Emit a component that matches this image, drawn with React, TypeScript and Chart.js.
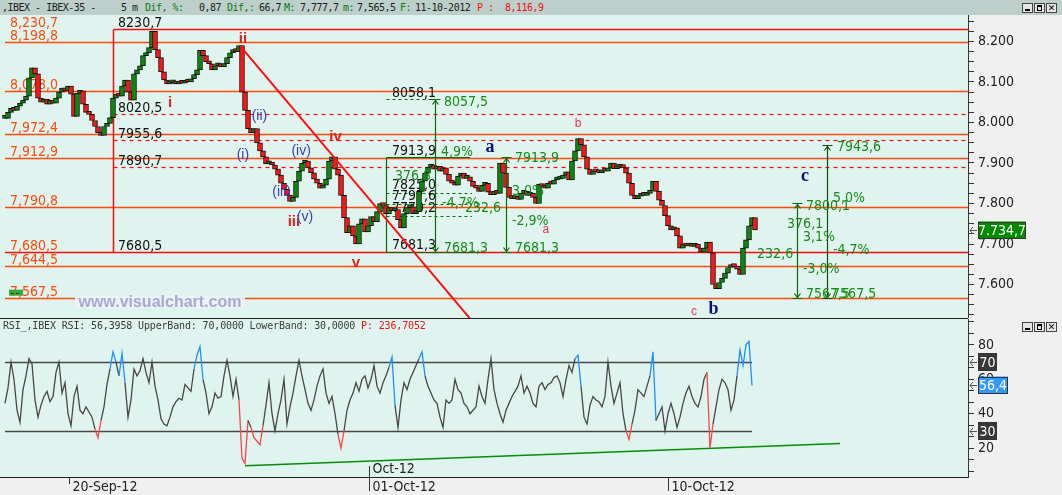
import React, { useEffect, useRef } from "react";
import { Chart, registerables } from "chart.js";

Chart.register(...registerables);

// ---------------- DATA ----------------
// Sampled 5-minute IBEX-35 closes (index 0 = 18-Sep-12 afternoon, last = 11-Oct-12)
const closes: number[] = [
  8010, 8025, 8035, 8030, 8040, 8048, 8055, 8065, 8110, 8135,
  8120, 8060, 8050, 8058, 8045, 8055, 8048, 8060, 8075, 8085,
  8078, 8090, 8070, 8015, 8072, 8078, 8045, 8025, 8020, 8005,
  7990, 7975, 7968, 7990, 7998, 8012, 8060, 8070, 8065, 8090,
  8105, 8075, 8055, 8120, 8130, 8140, 8165, 8172, 8185, 8225,
  8180, 8160, 8125, 8105, 8095, 8098, 8102, 8095, 8100, 8097,
  8104, 8100, 8108, 8118, 8130, 8178, 8165, 8150, 8145, 8130,
  8140, 8142, 8138, 8145, 8160, 8172, 8180, 8175, 8190, 8075,
  8030, 7985, 7975, 7985, 7950, 7930, 7915, 7898, 7902, 7895,
  7885, 7870, 7850, 7835, 7820, 7805, 7815, 7855, 7880, 7900,
  7905, 7888, 7876, 7860, 7850, 7838, 7845, 7860, 7905, 7915,
  7885, 7870, 7820, 7765, 7728, 7745, 7720, 7700, 7750, 7762,
  7730, 7745, 7768, 7755, 7780, 7800, 7795, 7775, 7790, 7782,
  7785, 7760, 7740, 7775, 7790, 7792, 7775, 7780, 7830, 7855,
  7875, 7890, 7895, 7885, 7892, 7880, 7888, 7872, 7855, 7850,
  7845, 7868, 7875, 7862, 7866, 7855, 7842, 7838, 7830, 7845,
  7850, 7828, 7822, 7830, 7825, 7900, 7875, 7840, 7815, 7812,
  7818, 7810, 7825, 7830, 7820, 7825, 7815, 7800, 7848, 7842,
  7838, 7850, 7848, 7858, 7860, 7862, 7870, 7878, 7858, 7905,
  7930, 7960, 7945, 7915, 7885, 7872, 7880, 7878, 7876, 7882,
  7880, 7888, 7900, 7886, 7890, 7896, 7888, 7875, 7850, 7820,
  7812, 7818, 7822, 7820, 7825, 7832, 7855, 7830, 7808, 7795,
  7770, 7745, 7735, 7740, 7720, 7690, 7700, 7695, 7698, 7694,
  7700, 7690, 7680, 7690, 7705, 7678, 7600, 7590, 7605, 7615,
  7628, 7642, 7648, 7644, 7638, 7625, 7690, 7710, 7745, 7765,
  7735,
];

// RSI of the same bars
const rsiValues: number[] = [
  46, 55, 70, 60, 42, 35, 54, 62, 72, 69,
  48, 38, 45, 50, 53, 47, 50, 64, 70, 52,
  58, 40, 33, 50, 56, 42, 40, 44, 41, 38,
  31, 26, 36, 44, 57, 66, 76, 70, 62, 75,
  58, 38, 48, 66, 62, 65, 72, 64, 58, 70,
  56, 48, 37, 34, 33, 38, 44, 47, 49, 48,
  57, 55, 53, 66, 74, 79, 60, 52, 40, 44,
  52, 49, 50, 62, 71, 62, 50, 60, 48, 14,
  11, 36, 32, 26, 24, 22, 33, 45, 58, 40,
  30, 40, 48, 60, 34, 44, 52, 62, 71, 62,
  54, 46, 42, 48, 56, 62, 66, 52, 46, 50,
  40, 28, 20, 30, 42, 48, 52, 58, 53, 60,
  62, 55, 60, 68, 56, 52, 58, 62, 67, 73,
  45, 32, 48, 58, 54, 60, 64, 68, 72, 76,
  62, 56, 52, 48, 46, 38, 32, 48, 46, 48,
  60, 54, 52, 46, 44, 40, 42, 44, 56, 50,
  46, 60, 72, 54, 46, 40, 35, 42, 46, 50,
  53, 56, 62, 52, 56, 52, 46, 44, 56, 58,
  54, 57, 58, 61, 62, 58, 50, 60, 68, 64,
  72, 74, 56, 38, 34, 45, 50, 48, 47, 44,
  50, 70, 56, 46, 52, 58, 40, 30, 25, 34,
  42, 54, 52, 50, 56, 62, 76, 36, 40, 44,
  30, 40, 46, 40, 32, 38, 46, 52, 56, 50,
  46, 44, 50, 60, 64, 20, 34, 44, 54, 60,
  58, 54, 42, 48, 62, 77, 68, 80, 82, 56.4,
];

// x-axis date separators (bar index) and labels
const dateTickIndex = [21.3, 121.3, 221.1];
const dateTickLabels = ["20-Sep-12", "01-Oct-12", "10-Oct-12"];
const monthTickIndex = [121.3];
const monthTickLabels = ["Oct-12"];

// last values
const lastPrice = 7734.7;
const lastPriceLabel = "7.734,7";
const lastRsi = 56.4;
const lastRsiLabel = "56,4";
const rsiBands = [70, 30];
const rsiBandLabels = ["70", "30"];
// RSI support trendline [index, rsi]
const rsiTrendStart = [80, 9.7];
const rsiTrendEnd = [278.3, 22.7];

// horizontal levels drawn across the price panel
const levelValues = [8198.8, 8078.0, 7972.4, 7912.9, 7790.8, 7680.5, 7644.5, 7567.5];
const leftLabelValues = [8230.7, 8198.8, 8078.0, 7972.4, 7912.9, 7790.8, 7680.5, 7644.5, 7567.5];
const leftLabelTexts = ["8,230,7", "8,198,8", "8,078,0", "7,972,4", "7,912,9", "7,790,8", "7,680,5", "7,644,5", "7,567,5"];
const leftLabelIndex = 1.67;

// Fibonacci retracement of wave i
const fibStartIndex = 36;
const fibLabelIndex = 37.7;
const fibTop = 8230.7;
const fibBottom = 7680.5;
const fibDashed = [8020.5, 7955.6, 7890.7];
const fibLabels = ["8230,7", "8020,5", "7955,6", "7890,7", "7680,5"];

// green retracement box (wave a)
const boxLeftIndex = 127;
const boxTopRightIndex = 155;
const boxBottomRightIndex = 158.3;
const boxFibRightIndex = 155.7;
const boxTop = 7913.9;
const boxBottom = 7681.3;
const boxHighDashed = 8057.5;
const boxFibLevels = [7825.0, 7797.6, 7770.2];

// measuring arrows
const arrowIndex = [143.3, 167, 264, 274];
const arrowTop = [8057.5, 7913.9, 7800.1, 7943.6];
const arrowBottom = [7681.3, 7681.3, 7567.5, 7567.5];

// black labels of the box: [index, price, text]
const boxBlackLabels: [number, number, string][] = [
  [129, 8072.8, "8058,1"],
  [129, 7927.9, "7913,9"],
  [129, 7844.4, "7825,0"],
  [129, 7816.8, "7797,6"],
  [129, 7788.1, "7770,2"],
  [129, 7697.5, "7681,3"],
];
// green measurement labels: [index, price, text]
const greenLabels: [number, number, string][] = [
  [146.3, 8048.9, "8057,5"],
  [145.3, 7925.4, "4,9%"],
  [130, 7866.2, "376,8"],
  [145.7, 7800.5, "-4,7%"],
  [153.3, 7788.1, "232,6"],
  [146.3, 7689.4, "7681,3"],
  [170, 7911.6, "7913,9"],
  [169, 7829.1, "3,0%"],
  [169, 7755.1, "-2,9%"],
  [170, 7689.4, "7681,3"],
  [277.3, 7938.8, "7943,6"],
  [267, 7793.8, "7800,1"],
  [276, 7812.8, "5,0%"],
  [260.7, 7748.6, "376,1"],
  [266, 7716.5, "3,1%"],
  [276, 7685.2, "-4,7%"],
  [250.7, 7675.3, "232,6"],
  [266, 7637.5, "-3,0%"],
  [267, 7575.8, "7567,5"],
  [275.7, 7575.8, "7567,5"],
];

// Elliott wave counts: [index, price, text]
const waveMajor: [number, number, string][] = [
  [55, 8048.1, "i"], [79.3, 8206.2, "ii"], [96.3, 7755.6, "iii"], [110.2, 7965.4, "iv"], [117, 7654.3, "v"],
];
const waveMinor: [number, number, string][] = [
  [79.3, 7919.8, "(i)"], [84.8, 8016.0, "(ii)"], [92.2, 7828.4, "(iii)"], [98.7, 7928.4, "(iv)"], [100, 7765.4, "(v)"],
];
const waveABC: [number, number, string][] = [
  [161.7, 7939.5, "a"], [236.2, 7538.3, "b"], [266.7, 7867.9, "c"],
];
const waveSub: [number, number, string][] = [
  [180.3, 7734.6, "a"], [191, 7996.3, "b"], [229.7, 7533.3, "c"],
];
// downtrend line from wave ii: [index, price]
const trendStart = [78.3, 8190];
const trendEnd = [160, 7472];
// watermark position [index start, index end, price]
const watermark = { from: 23.3, to: 80, price: 7556.8, text: "www.visualchart.com" };

// axis ranges
const priceMin = 7517.3;
const priceMax = 8265.4;
const rsiMin = 3.2;
const rsiMax = 95.06;
const indexMin = -1.667;
const indexMax = 321;

// ---------------- STYLE ----------------
const MINT = "#e0f4ef";
const GRAY = "#f0f0f0";
const ORANGE = "#ff4a0a";
const RED = "#ff0a0a";
const DGREEN = "#0a6a0a";
const TGREEN = "#168c16";
const FONT_AXIS = "'Liberation Sans Narrow', 'DejaVu Sans Condensed', 'Liberation Sans', sans-serif";
const FONT_MONO = "'DejaVu Sans Mono', monospace";

function hline(ctx: any, x1: number, x2: number, y: number, color: string, w: number, dash: number[] = []) {
  ctx.save();
  ctx.strokeStyle = color;
  ctx.lineWidth = w;
  ctx.setLineDash(dash);
  ctx.beginPath();
  ctx.moveTo(x1, y);
  ctx.lineTo(x2, y);
  ctx.stroke();
  ctx.restore();
}
function vline(ctx: any, x: number, y1: number, y2: number, color: string, w: number) {
  ctx.save();
  ctx.strokeStyle = color;
  ctx.lineWidth = w;
  ctx.beginPath();
  ctx.moveTo(x, y1);
  ctx.lineTo(x, y2);
  ctx.stroke();
  ctx.restore();
}
function text(ctx: any, s: string, x: number, y: number, color: string, font: string, align = "left", base = "middle") {
  ctx.save();
  ctx.fillStyle = color;
  ctx.font = font;
  ctx.textAlign = align;
  ctx.textBaseline = base;
  ctx.fillText(s, x, y);
  ctx.restore();
}
function arrow(ctx: any, x: number, yt: number, yb: number, color: string) {
  ctx.save();
  ctx.strokeStyle = color;
  ctx.lineWidth = 1.2;
  ctx.beginPath();
  ctx.moveTo(x, yt);
  ctx.lineTo(x, yb);
  ctx.moveTo(x - 5, yt);
  ctx.lineTo(x + 5, yt);
  ctx.moveTo(x - 5, yb);
  ctx.lineTo(x + 5, yb);
  ctx.moveTo(x - 3, yt + 5);
  ctx.lineTo(x, yt + 1);
  ctx.lineTo(x + 3, yt + 5);
  ctx.moveTo(x - 3, yb - 5);
  ctx.lineTo(x, yb - 1);
  ctx.lineTo(x + 3, yb - 5);
  ctx.stroke();
  ctx.restore();
}
function leftArrow(ctx: any, x: number, y: number) {
  ctx.save();
  ctx.strokeStyle = "#555";
  ctx.lineWidth = 1;
  ctx.beginPath();
  ctx.moveTo(x + 7, y + 0.5);
  ctx.lineTo(x, y + 0.5);
  ctx.moveTo(x + 3, y - 3);
  ctx.lineTo(x, y + 0.5);
  ctx.lineTo(x + 3, y + 4);
  ctx.stroke();
  ctx.restore();
}
function valueBox(ctx: any, s: string, x: number, y: number, w: number, h: number, bg: string) {
  ctx.save();
  ctx.fillStyle = bg;
  ctx.fillRect(x, y - h / 2, w, h);
  ctx.strokeStyle = "#333";
  ctx.lineWidth = 1;
  ctx.strokeRect(x + 0.5, Math.round(y - h / 2) + 0.5, w - 1, h - 1);
  ctx.restore();
  text(ctx, s, x + w / 2, y + 1, "#ffffff", `14px ${FONT_AXIS}`, "center", "middle");
}

const fmtAxis = (v: number) => {
  const t = Math.round(v);
  return `${Math.floor(t / 1000)}.${String(t % 1000).padStart(3, "0")}`;
};

const noPad = (s: any) => {
  s.width = 94;
  s.paddingTop = 0;
  s.paddingBottom = 0;
};

const mainPlugin = {
  id: "mainDecor",
  beforeDraw(chart: any) {
    const { ctx, chartArea: a } = chart;
    ctx.save();
    ctx.fillStyle = MINT;
    ctx.fillRect(a.left, a.top, a.right - a.left, a.bottom - a.top);
    ctx.restore();
  },
  beforeDatasetsDraw(chart: any) {
    const { ctx, chartArea: a, scales } = chart;
    const X = (v: number) => scales.x.getPixelForValue(v);
    const Y = (v: number) => scales.y.getPixelForValue(v);
    const cy = (v: number) => Math.round(Y(v)) + 0.5;
    const cx = (v: number) => Math.round(X(v)) + 0.5;
    const lab = `14px ${FONT_AXIS}`;
    ctx.save();
    ctx.beginPath();
    ctx.rect(a.left, a.top, a.right - a.left, a.bottom - a.top);
    ctx.clip();

    levelValues.forEach((v) => hline(ctx, a.left + 5, a.right, cy(v), v === fibBottom ? RED : ORANGE, 1.5));
    // fibonacci of wave i
    const fx = cx(fibStartIndex);
    hline(ctx, fx, a.right, cy(fibTop), RED, 1.5);
    fibDashed.forEach((v) => hline(ctx, fx, a.right, cy(v), RED, 1.2, [4, 4]));
    vline(ctx, fx, cy(fibTop), cy(fibBottom), RED, 1.5);
    [fibTop, ...fibDashed, fibBottom].forEach((v, k) =>
      text(ctx, fibLabels[k], X(fibLabelIndex), Y(v) - 2, "#111", lab, "left", "alphabetic")
    );
    leftLabelValues.forEach((v, k) =>
      text(ctx, leftLabelTexts[k], X(leftLabelIndex), Y(v) - 2, ORANGE, lab, "left", "alphabetic")
    );
    // small green marker on the last label
    {
      const y = Y(leftLabelValues[leftLabelValues.length - 1]);
      ctx.fillStyle = "#3aa83a";
      ctx.fillRect(X(leftLabelIndex) - 1, y - 8, 14, 6);
      hline(ctx, X(leftLabelIndex) + 1, X(leftLabelIndex) + 11, Math.round(y - 5) + 0.5, "#1a4a1a", 1, [3, 2]);
    }
    // green retracement box
    const bl = cx(boxLeftIndex);
    vline(ctx, bl, cy(boxTop), cy(boxBottom), DGREEN, 1.2);
    hline(ctx, bl, X(boxTopRightIndex), cy(boxTop), DGREEN, 1.2);
    hline(ctx, bl, X(boxBottomRightIndex), cy(boxBottom), DGREEN, 1.2);
    hline(ctx, bl, X(arrowIndex[0]), cy(boxHighDashed), DGREEN, 1, [3, 3]);
    boxFibLevels.forEach((v) => hline(ctx, bl, X(boxFibRightIndex), cy(v), DGREEN, 1, [3, 3]));
    boxBlackLabels.forEach(([i, p, s]) => text(ctx, s, X(i), Y(p), "#111", lab));
    ctx.restore();
  },
  afterDatasetsDraw(chart: any) {
    const { ctx, chartArea: a, scales } = chart;
    const X = (v: number) => scales.x.getPixelForValue(v);
    const Y = (v: number) => scales.y.getPixelForValue(v);
    const lab = `14px ${FONT_AXIS}`;
    ctx.save();
    ctx.beginPath();
    ctx.rect(a.left, a.top, a.right - a.left, a.bottom - a.top);
    ctx.clip();
    // downtrend line
    ctx.save();
    ctx.strokeStyle = "#ff1010";
    ctx.lineWidth = 2;
    ctx.beginPath();
    ctx.moveTo(X(trendStart[0]), Y(trendStart[1]));
    ctx.lineTo(X(trendEnd[0]), Y(trendEnd[1]));
    ctx.stroke();
    ctx.restore();
    // arrows
    arrowIndex.forEach((ix, k) =>
      arrow(ctx, Math.round(X(ix)) + 0.5, Math.round(Y(arrowTop[k])) + 0.5, Math.round(Y(arrowBottom[k])) + 0.5, k === 3 ? "#0a4f0a" : DGREEN)
    );
    greenLabels.forEach(([i, p, s]) => text(ctx, s, X(i), Y(p), TGREEN, lab));
    // Elliott labels
    waveMajor.forEach(([i, p, s]) => text(ctx, s, X(i), Y(p), "#e4211b", `bold 15px 'Liberation Sans', sans-serif`, "center"));
    waveMinor.forEach(([i, p, s]) => text(ctx, s, X(i), Y(p), "#3c3cb8", `14px 'Liberation Sans', sans-serif`, "center"));
    waveABC.forEach(([i, p, s]) => text(ctx, s, X(i), Y(p), "#10107a", `bold 18px 'Liberation Serif', serif`, "center"));
    waveSub.forEach(([i, p, s]) => text(ctx, s, X(i), Y(p), "#f0325a", `12px 'Liberation Sans', sans-serif`, "center"));
    // watermark
    const wx1 = X(watermark.from);
    const wx2 = X(watermark.to);
    const wy = Y(watermark.price);
    ctx.fillStyle = "#eef1f7";
    ctx.fillRect(wx1, wy - 6, wx2 - wx1, 12);
    text(ctx, watermark.text, (wx1 + wx2) / 2, wy + 1, "#a6a9d2", `bold 16px 'Liberation Sans', sans-serif`, "center");
    ctx.restore();
  },
  afterDraw(chart: any) {
    const { ctx, chartArea: a, scales } = chart;
    const y = Math.round(scales.y.getPixelForValue(lastPrice));
    leftArrow(ctx, a.right + 2, y);
    valueBox(ctx, lastPriceLabel, a.right + 10, y, 48, 17, "#008a00");
  },
};

const rsiPlugin = {
  id: "rsiDecor",
  beforeDraw(chart: any) {
    const { ctx, chartArea: a } = chart;
    ctx.save();
    ctx.fillStyle = MINT;
    ctx.fillRect(a.left, a.top, a.right - a.left, a.bottom - a.top);
    ctx.restore();
  },
  beforeDatasetsDraw(chart: any) {
    const { ctx, chartArea: a, scales } = chart;
    const X = (v: number) => scales.x.getPixelForValue(v);
    const Y = (v: number) => scales.y.getPixelForValue(v);
    ctx.save();
    ctx.beginPath();
    ctx.rect(a.left, a.top, a.right - a.left, a.bottom - a.top);
    ctx.clip();
    rsiBands.forEach((b) => hline(ctx, X(0), X(rsiValues.length - 1), Math.round(Y(b)) + 0.5, "#474747", 1.3));
    ctx.strokeStyle = "#0a8a0a";
    ctx.lineWidth = 1.5;
    ctx.beginPath();
    ctx.moveTo(X(rsiTrendStart[0]), Y(rsiTrendStart[1]));
    ctx.lineTo(X(rsiTrendEnd[0]), Y(rsiTrendEnd[1]));
    ctx.stroke();
    // month separator inside the panel
    monthTickIndex.forEach((ix, k) => {
      const x = Math.round(X(ix)) + 0.5;
      vline(ctx, x, a.bottom - 11, a.bottom, "#333", 1);
      text(ctx, monthTickLabels[k], x + 3, a.bottom - 7.5, "#222", `14px ${FONT_AXIS}`);
    });
    ctx.restore();
  },
  afterDraw(chart: any) {
    const { ctx, chartArea: a, scales } = chart;
    const X = (v: number) => scales.x.getPixelForValue(v);
    const Y = (v: number) => scales.y.getPixelForValue(v);
    rsiBands.forEach((b, k) => {
      const y = Math.round(Y(b));
      leftArrow(ctx, a.right + 2, y);
      valueBox(ctx, rsiBandLabels[k], a.right + 10, y, 19, 18, "#383838");
    });
    const yl = Math.round(Y(lastRsi));
    leftArrow(ctx, a.right + 2, yl);
    valueBox(ctx, lastRsiLabel, a.right + 10, yl, 30, 17, "#3399ff");
    // bottom border and date axis
    hline(ctx, 0, a.right, a.bottom + 0.5, "#222", 1);
    dateTickIndex.forEach((ix, k) => {
      const x = Math.round(X(ix)) + 0.5;
      vline(ctx, x, a.bottom, a.bottom + (k === 0 ? 7 : 14), "#333", 1);
      text(ctx, dateTickLabels[k], x + 3, a.bottom + 10, "#222", `14px ${FONT_AXIS}`);
    });
  },
};

function WinButtons({ top }: { top: number }) {
  const btn: any = {
    width: 11,
    height: 10,
    border: "1px solid #444",
    background: "#e6e6e6",
    boxSizing: "border-box",
    position: "relative",
    fontFamily: "'DejaVu Sans', sans-serif",
    fontSize: 9,
    lineHeight: "8px",
    textAlign: "center",
    color: "#000",
  };
  return (
    <div style={{ position: "absolute", left: 1022, top, display: "flex", gap: 1 }}>
      <div style={btn}>
        <div style={{ position: "absolute", left: 2, right: 2, bottom: 1, height: 2, background: "#000" }} />
      </div>
      <div style={btn}>
        <div style={{ position: "absolute", left: 2, right: 2, top: 1, bottom: 1, border: "1px solid #000", borderTopWidth: 2 }} />
      </div>
      <div style={{ ...btn, fontWeight: "bold" }}>✕</div>
    </div>
  );
}

const titleSegments: [number, string, string][] = [
  [2, ",IBEX - IBEX-35 -", "#202020"],
  [121, "5 m", "#202020"],
  [145, "Dif, %:", "#0a7a0a"],
  [199, "0,87", "#202020"],
  [227, "Dif,:", "#0a7a0a"],
  [259, "66,7", "#202020"],
  [284, "M:", "#0a7a0a"],
  [300, "7,777,7", "#202020"],
  [343, "m:", "#0a7a0a"],
  [357, "7,565,5", "#202020"],
  [400, "F:", "#0a7a0a"],
  [415, "11-10-2012", "#202020"],
  [477, "P :", "#f01010"],
  [505, "8,116,9", "#f01010"],
];

export default function App() {
  const mainRef = useRef<HTMLCanvasElement>(null);
  const rsiRef = useRef<HTMLCanvasElement>(null);

  useEffect(() => {
    const candles = closes.map((c, i) => ({ x: i, y: [i === 0 ? c : closes[i - 1], c] }));
    const main = new Chart(mainRef.current as any, {
      type: "bar",
      data: {
        datasets: [
          {
            data: candles as any,
            backgroundColor: (c: any) => {
              const r = c.raw;
              if (!r) return "#0a8a0a";
              return r.y[1] >= r.y[0] ? "#0a8a0a" : "#ff1414";
            },
            borderColor: "#101010",
            borderWidth: 1,
            borderSkipped: false,
            barThickness: 5,
            minBarLength: 3,
          } as any,
        ],
      },
      options: {
        animation: false,
        responsive: false,
        events: [],
        layout: { padding: 0 },
        plugins: { legend: { display: false }, tooltip: { enabled: false } },
        scales: {
          x: { type: "linear", display: false, min: indexMin, max: indexMax, offset: false },
          y: {
            position: "right",
            min: priceMin,
            max: priceMax,
            afterFit: noPad,
            border: { display: true, color: "#333", width: 1 },
            grid: { drawOnChartArea: false, drawTicks: true, tickLength: 6, color: "#333" },
            ticks: {
              stepSize: 25,
              includeBounds: false,
              autoSkip: false,
              padding: 4,
              color: "#222",
              font: { family: FONT_AXIS, size: 14 },
              callback: (v: any) => (Math.abs(v % 100) < 1e-6 ? fmtAxis(v) : ""),
            },
          },
        },
      } as any,
      plugins: [mainPlugin],
    });

    const rsi = new Chart(rsiRef.current as any, {
      type: "line",
      data: {
        datasets: [
          {
            data: rsiValues.map((v, i) => ({ x: i, y: v })),
            borderColor: "#474747",
            borderWidth: 1.3,
            pointRadius: 0,
            tension: 0,
            segment: {
              borderColor: (c: any) => {
                const a = c.p0.parsed.y;
                const b = c.p1.parsed.y;
                if (Math.min(a, b) >= 70 || Math.max(a, b) >= 73) return "#1e8fff";
                if (Math.max(a, b) <= 30 || Math.min(a, b) <= 27) return "#ff4444";
                return undefined;
              },
            },
          } as any,
        ],
      },
      options: {
        animation: false,
        responsive: false,
        events: [],
        layout: { padding: { left: 0, right: 0, top: 0, bottom: 18 } },
        plugins: { legend: { display: false }, tooltip: { enabled: false } },
        scales: {
          x: { type: "linear", display: false, min: indexMin, max: indexMax },
          y: {
            position: "right",
            min: rsiMin,
            max: rsiMax,
            afterFit: noPad,
            border: { display: true, color: "#333", width: 1 },
            grid: { drawOnChartArea: false, drawTicks: true, tickLength: 6, color: "#333" },
            ticks: {
              stepSize: 20 / 3,
              includeBounds: false,
              autoSkip: false,
              padding: 4,
              color: "#222",
              font: { family: FONT_AXIS, size: 14 },
              callback: (v: any) => (Math.abs(v / 20 - Math.round(v / 20)) < 1e-6 ? String(Math.round(v)) : ""),
            },
          },
        },
      } as any,
      plugins: [rsiPlugin],
    });

    return () => {
      main.destroy();
      rsi.destroy();
    };
  }, []);

  return (
    <div style={{ position: "fixed", left: 0, top: 0, width: 1062, height: 495, background: GRAY, overflow: "hidden" }}>
      <div style={{ position: "absolute", left: 0, top: 0, width: 1062, height: 15, background: "#bccfca" }}>
        {titleSegments.map(([x, s, c], k) => (
          <span
            key={k}
            style={{
              position: "absolute",
              left: x,
              top: 1,
              fontFamily: FONT_MONO,
              fontSize: 10,
              letterSpacing: "-0.5px",
              lineHeight: "13px",
              color: c,
              whiteSpace: "pre",
            }}
          >
            {s}
          </span>
        ))}
      </div>
      <canvas ref={mainRef} width={1062} height={303} style={{ position: "absolute", left: 0, top: 15, width: 1062, height: 303 }} />
      <div style={{ position: "absolute", left: 0, top: 318, width: 968, height: 1, background: "#222" }} />
      <canvas ref={rsiRef} width={1062} height={176} style={{ position: "absolute", left: 0, top: 319, width: 1062, height: 176 }} />
      <div
        style={{
          position: "absolute",
          left: 3,
          top: 319,
          fontFamily: FONT_MONO,
          fontSize: 10,
          lineHeight: "13px",
          letterSpacing: "-0.15px",
          color: "#3a3a3a",
          whiteSpace: "pre",
        }}
      >
        {"RSI_,IBEX RSI: 56,3958 UpperBand: 70,0000 LowerBand: 30,0000 "}
        <span style={{ color: "#ee1111" }}>{"P: 236,7052"}</span>
      </div>
      <WinButtons top={3} />
      <WinButtons top={322} />
    </div>
  );
}
